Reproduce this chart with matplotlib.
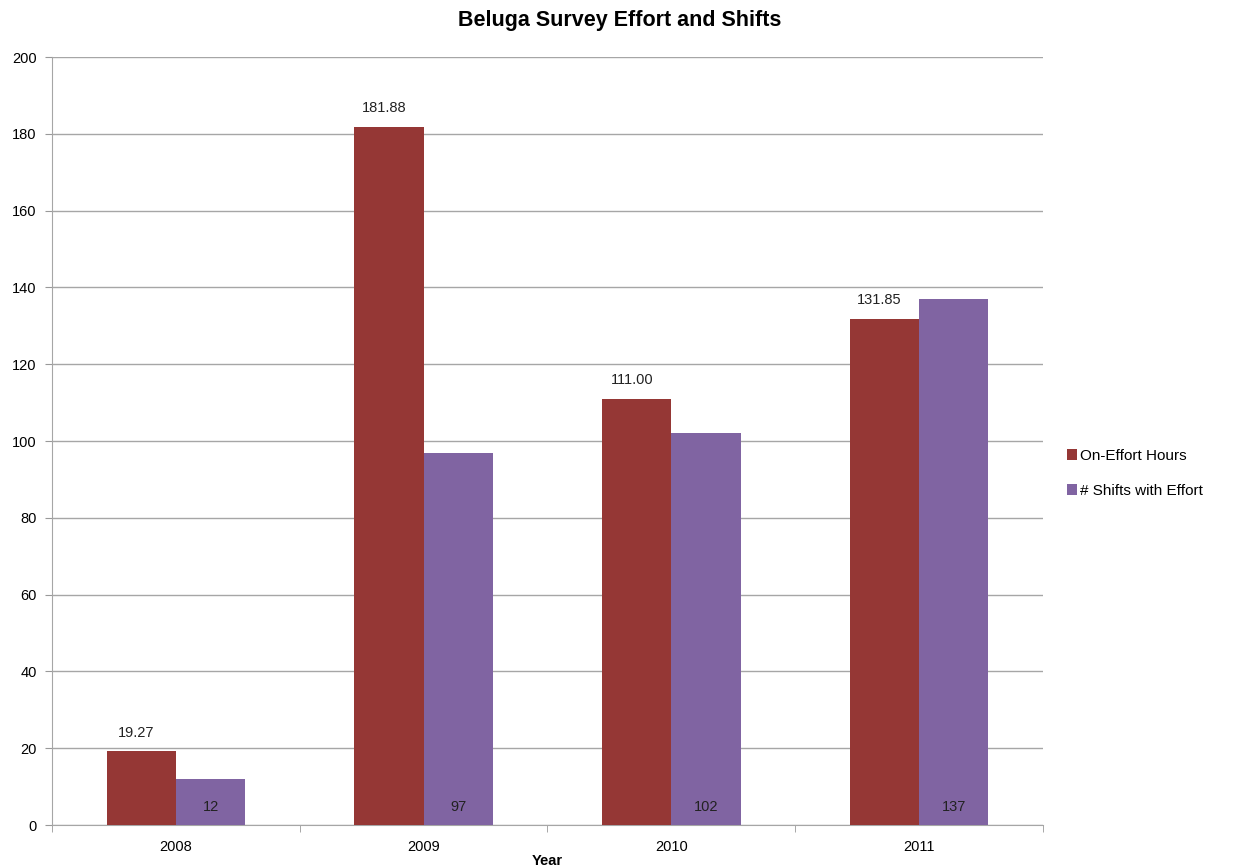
import numpy as np
import matplotlib.pyplot as plt

plt.rcParams['font.family'] = ['Liberation Sans', 'DejaVu Sans']

years = ['2008', '2009', '2010', '2011']
hours = [19.27, 181.88, 111.00, 131.85]
shifts = [12, 97, 102, 137]

red = '#953735'
purple = '#8064A2'

fig = plt.figure(figsize=(12.47, 8.68), dpi=100)
ax = fig.add_axes([0.0417, 0.0495, 0.7947, 0.8848])

x = np.arange(len(years))
w = 0.28
b1 = ax.bar(x - w/2, hours, w, color=red, label='On-Effort Hours', zorder=3)
b2 = ax.bar(x + w/2, shifts, w, color=purple, label='# Shifts with Effort', zorder=3)

for xi, h in zip(x, hours):
    ax.text(xi - w/2 - 0.02, h + 3, '%.2f' % h, ha='center', va='bottom', fontsize=10.5, color='#222222')
for xi, s in zip(x, shifts):
    ax.text(xi + w/2, 3, str(s), ha='center', va='bottom', fontsize=10.5, color='#222222', zorder=4)

ax.set_xlim(-0.5, 3.5)
ax.set_ylim(0, 200)
ax.set_yticks(np.arange(0, 201, 20))
ax.set_xticks(x)
ax.set_xticklabels(years)
ax.set_xticks(np.arange(-0.5, 3.6, 1), minor=True)
ax.tick_params(axis='x', which='major', length=0, labelsize=10.5, pad=11)
ax.tick_params(axis='x', which='minor', length=5, color='#999999', direction='out')
ax.tick_params(axis='y', length=5, color='#999999', labelsize=10.5, pad=6)
ax.grid(axis='y', color='#a6a6a6', linewidth=1, zorder=0)
for side in ['top', 'right']:
    ax.spines[side].set_visible(False)
ax.spines['left'].set_color('#a6a6a6')
ax.spines['bottom'].set_color('#a6a6a6')

fig.suptitle('Beluga Survey Effort and Shifts', fontsize=15.5, fontweight='bold', x=0.497, y=0.988)
ax.set_xlabel('Year', fontsize=10.5, fontweight='bold', labelpad=0)

ax.legend(loc='center left', bbox_to_anchor=(1.01, 0.458), frameon=False, fontsize=11,
          handlelength=0.7, handleheight=0.7, handletextpad=0.2, labelspacing=1.35)

plt.savefig('out.png', dpi=100, facecolor='white')
